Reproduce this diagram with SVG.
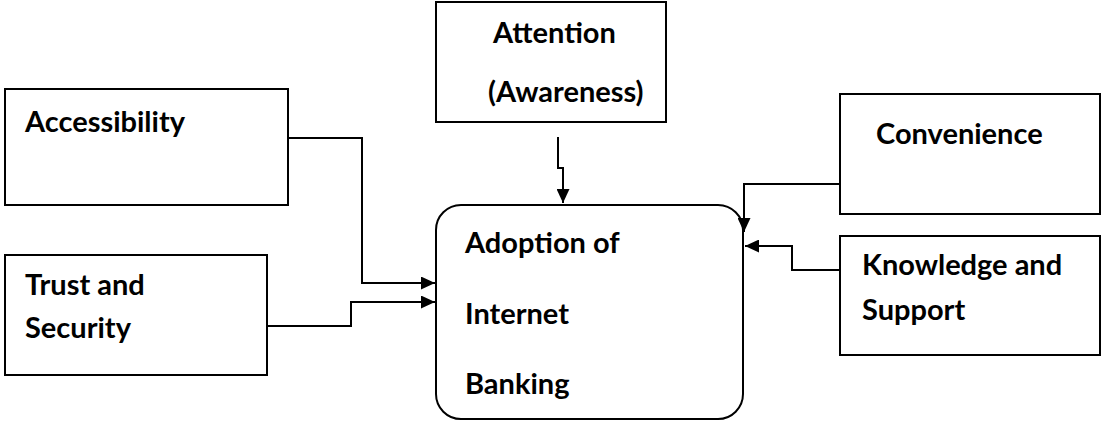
<svg xmlns="http://www.w3.org/2000/svg" width="1102" height="421" viewBox="0 0 1102 421">
<style>
.box{fill:#fff;stroke:#000;stroke-width:2}
.t{font-family:Lato,"Open Sans","Liberation Sans",sans-serif;font-weight:bold;font-size:29px;fill:#000}
.c{fill:none;stroke:#000;stroke-width:2}
</style>
<defs>
<marker id="ah" viewBox="0 0 14 13" refX="14" refY="6.5" markerWidth="14" markerHeight="13" markerUnits="userSpaceOnUse" orient="auto">
<path d="M0,0 L14,6.5 L0,13 Z" fill="#000"/>
</marker>
</defs>
<rect width="1102" height="421" fill="#fff"/>
<g id="accessibility">
<rect class="box" x="5" y="89" width="283" height="116"/>
<text class="t" x="25" y="132">Accessibility</text>
</g>
<g id="trust">
<rect class="box" x="5" y="255" width="262" height="120"/>
<text class="t" x="25" y="295">Trust and</text>
<text class="t" x="25" y="338">Security</text>
</g>
<g id="attention">
<rect class="box" x="436" y="2" width="230" height="120"/>
<text class="t" x="493" y="43">Attention</text>
<text class="t" x="488" y="102">(Awareness)</text>
</g>
<g id="adoption">
<rect class="box" x="436" y="205" width="307" height="214" rx="25" ry="25"/>
<text class="t" x="465" y="253">Adoption of</text>
<text class="t" x="465" y="324">Internet</text>
<text class="t" x="465" y="394">Banking</text>
</g>
<g id="convenience">
<rect class="box" x="840" y="94" width="260" height="120"/>
<text class="t" x="876" y="144">Convenience</text>
</g>
<g id="knowledge">
<rect class="box" x="840" y="236" width="260" height="119"/>
<text class="t" x="862" y="275">Knowledge and</text>
<text class="t" x="862" y="320">Support</text>
</g>
<g id="connectors">
<path class="c" d="M288,138 H362 V283 H435" marker-end="url(#ah)"/>
<path class="c" d="M267,326 H351 V302 H435" marker-end="url(#ah)"/>
<path class="c" d="M558,137 V168 H563 V203" marker-end="url(#ah)"/>
<path class="c" d="M840,184 H744 V232" marker-end="url(#ah)"/>
<path class="c" d="M840,270 H792 V246 H745" marker-end="url(#ah)"/>
</g>
</svg>
